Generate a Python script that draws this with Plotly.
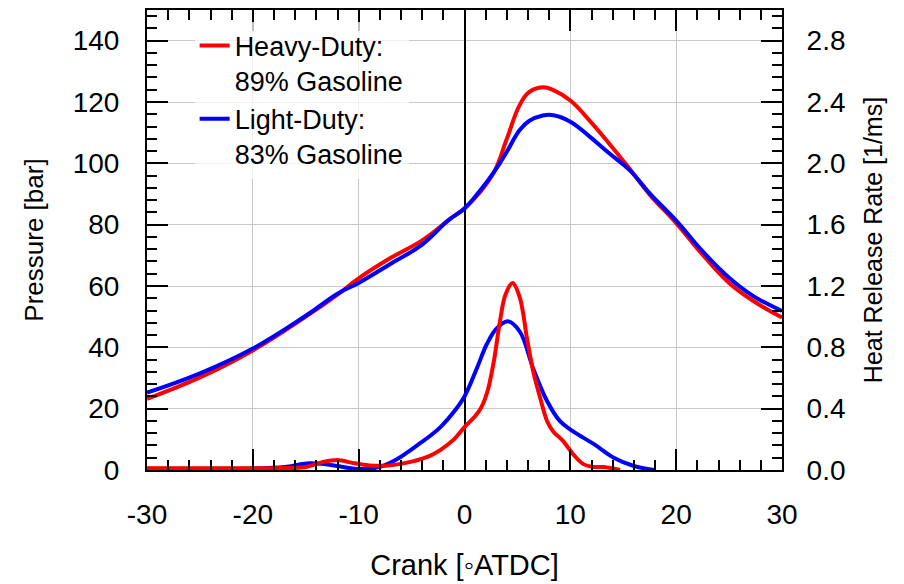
import plotly.graph_objects as go

# ---- data ----
crank_p = [-30, -25, -20, -15, -12, -10, -7, -4, -1.5, 0, 1.4, 2.8, 4.0, 5.2, 6.1, 7.4, 8.4, 10, 11.8, 13.7, 15.6, 17.5, 20, 22.5, 25, 27.3, 30]
p_heavy = [23.2, 30.2, 39.0, 50.0, 57.2, 62.5, 69.1, 74.9, 81.5, 85.3, 90.3, 97.2, 108.0, 118.9, 123.2, 124.8, 123.9, 120.5, 114.0, 106.3, 98.2, 89.8, 80.5, 70.2, 61.0, 55.1, 49.7]
p_light = [25.2, 31.5, 39.6, 50.3, 57.5, 61.0, 67.2, 73.5, 81.5, 85.3, 90.8, 97.2, 103.8, 110.8, 113.8, 115.6, 115.7, 113.6, 108.8, 103.2, 97.8, 90.2, 81.3, 71.3, 62.7, 56.7, 51.9]

crank_h_heavy = [-30, -24, -18, -15, -13.5, -12, -10.5, -9, -7.5, -6, -4.8, -3.5, -2.3, -1, 0, 1.0, 1.6, 2.2, 2.8, 3.35, 3.85, 4.55, 5.25, 5.9, 6.5, 7.15, 7.8, 8.4, 9.3, 10.3, 11.2, 12.2, 13.2, 14.0, 14.7]
hrr_heavy = [0.012, 0.012, 0.012, 0.02, 0.05, 0.065, 0.045, 0.03, 0.028, 0.04, 0.058, 0.085, 0.13, 0.2, 0.28, 0.35, 0.41, 0.52, 0.72, 0.97, 1.14, 1.22, 1.12, 0.86, 0.64, 0.47, 0.32, 0.25, 0.19, 0.10, 0.04, 0.02, 0.02, 0.01, 0.0]

crank_h_light = [-30, -24, -20, -17, -14.9, -13.5, -12, -10, -8, -6.4, -5.3, -4.2, -3.2, -2.2, -1, 0, 1.15, 2.1, 3.0, 4.1, 5.25, 6.5, 7.8, 9.0, 10.3, 12.2, 14.1, 16.0, 17.9]
hrr_light = [0.008, 0.008, 0.01, 0.02, 0.043, 0.04, 0.026, 0.006, 0.02, 0.07, 0.12, 0.175, 0.225, 0.285, 0.38, 0.48, 0.66, 0.82, 0.92, 0.97, 0.90, 0.66, 0.45, 0.32, 0.25, 0.17, 0.08, 0.026, 0.0]

x_tickvals = [-30, -20, -10, 0, 10, 20, 30]
x_ticktext = ["-30", "-20", "-10", "0", "10", "20", "30"]

name_heavy = "Heavy-Duty:<br>89% Gasoline"
name_light = "Light-Duty:<br>83% Gasoline"
RED = "#ff0000"
BLUE = "#0000ff"
FONT = "Arial, Liberation Sans, sans-serif"
FS_TICK = 28
FS_LEG = 27

fig = go.Figure()
fig.add_trace(go.Scatter(x=crank_p, y=p_heavy, mode="lines", name=name_heavy, legendgroup="h",
                         line=dict(color=RED, width=4, shape="spline", smoothing=1.2)))
fig.add_trace(go.Scatter(x=crank_p, y=p_light, mode="lines", name=name_light, legendgroup="l",
                         line=dict(color=BLUE, width=4, shape="spline", smoothing=1.2)))
fig.add_trace(go.Scatter(x=crank_h_light, y=hrr_light, mode="lines", legendgroup="l", showlegend=False,
                         yaxis="y2", line=dict(color=BLUE, width=4, shape="spline", smoothing=1.0)))
fig.add_trace(go.Scatter(x=crank_h_heavy, y=hrr_heavy, mode="lines", legendgroup="h", showlegend=False,
                         yaxis="y2", line=dict(color=RED, width=4, shape="spline", smoothing=0.9)))

axis_common = dict(showline=True, linecolor="black", linewidth=2, ticks="inside", ticklen=21,
                   tickwidth=2, tickcolor="black", tickfont=dict(family=FONT, size=FS_TICK, color="black"))

fig.update_layout(
    width=904, height=584,
    margin=dict(l=139, r=130, t=0, b=122),
    paper_bgcolor="white", plot_bgcolor="white",
    font=dict(family=FONT, size=FS_TICK, color="black"),
    xaxis=dict(range=[-30, 30], tickvals=x_tickvals, ticktext=x_ticktext, mirror="ticks",
               ticklabelstandoff=18,
               showgrid=True, gridcolor="#c8c8c8", gridwidth=1,
               zeroline=True, zerolinecolor="black", zerolinewidth=2,
               minor=dict(dtick=2, ticks="inside", ticklen=10, tickwidth=2, tickcolor="black", showgrid=False),
               title=dict(text="Crank [◦ATDC]", font=dict(size=29), standoff=26),
               **axis_common),
    yaxis=dict(range=[0, 150], dtick=20, tick0=0, ticklabelstandoff=20,
               showgrid=True, gridcolor="#c8c8c8", gridwidth=1, zeroline=False,
               minor=dict(dtick=4, ticks="inside", ticklen=10, tickwidth=2, tickcolor="black", showgrid=False),
               title=dict(text="Pressure [bar]", font=dict(size=26), standoff=22),
               **axis_common),
    yaxis2=dict(range=[0, 3], dtick=0.4, tick0=0, tickformat=".1f", overlaying="y", side="right",
                ticklabelstandoff=17,
                showgrid=False, zeroline=False,
                minor=dict(dtick=0.08, ticks="inside", ticklen=10, tickwidth=2, tickcolor="black", showgrid=False),
                title=dict(text="Heat Release Rate [1/ms]", font=dict(size=25), standoff=20),
                **axis_common),
    legend=dict(x=0.075, y=0.975, xanchor="left", yanchor="top", bgcolor="rgba(255,255,255,0.75)",
                font=dict(family=FONT, size=FS_LEG, color="black"), valign="top", tracegroupgap=0,
                itemclick=False),
    showlegend=True,
)

fig.write_html("out.html")
